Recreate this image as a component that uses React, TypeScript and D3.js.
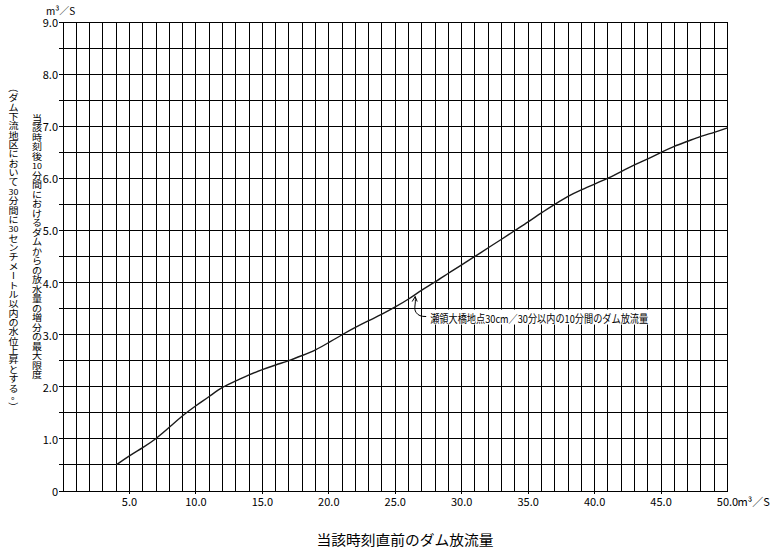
import React from 'react';
import * as d3 from 'd3';

// ダム放流量 (m3/s) readings
const flowX = [4, 5, 6, 7, 8, 9, 10, 11, 12, 13, 14, 15, 16, 17, 18, 19, 20, 21, 22, 23, 24, 25, 26, 27,
  28, 29, 30, 31, 32, 33, 34, 35, 36, 37, 38, 39, 40, 41, 42, 43, 44, 45, 46, 47, 48, 49, 50];
const flowY = [0.5, 0.68, 0.83, 1.0, 1.22, 1.45, 1.64, 1.81, 2.0, 2.11, 2.23, 2.33, 2.42, 2.5, 2.6, 2.7,
  2.85, 3.0, 3.14, 3.27, 3.39, 3.53, 3.68, 3.86, 4.01, 4.18, 4.34, 4.5, 4.67, 4.83, 5.0, 5.16, 5.34,
  5.5, 5.66, 5.78, 5.89, 6.0, 6.13, 6.26, 6.37, 6.5, 6.62, 6.71, 6.81, 6.88, 6.97];

const yTicks = [0, 1, 2, 3, 4, 5, 6, 7, 8, 9];
const yTickLabels = ['0', '1.0', '2.0', '3.0', '4.0', '5.0', '6.0', '7.0', '8.0', '9.0'];
const xTicks = [5, 10, 15, 20, 25, 30, 35, 40, 45, 50];
const xTickLabels = ['5.0', '10.0', '15.0', '20.0', '25.0', '30.0', '35.0', '40.0', '45.0', '50.0'];

const unitText = 'm³／S';
const xTitle = '当該時刻直前のダム放流量';
const yTitleInner = '当該時刻後10分間におけるダムからの放水量の増分の最大限度';
const yTitleOuter = '（ダム下流地区において30分間に30センチメートル以内の水位上昇とする。）';
const noteText = '瀬領大橋地点30cm／30分以内の10分間のダム放流量';
const noteAt = 26.5;

const FONT = '"Noto Sans CJK JP", "Noto Sans", sans-serif';

// tategaki: one glyph (or digit group) per cell
function VerticalText({text, cx, y0, pitch}: {text: string, cx: number, y0: number, pitch: number}) {
  const toks = text.match(/[0-9]+|./gu) || [];
  return (
    <g fontFamily={FONT} fill="#000">
      {toks.map((t, i) => {
        const y = y0 + i * pitch;
        const rot = t === '（' || t === '）' || t === 'ー';
        const digits = /^[0-9]+$/.test(t);
        if (t === '。') {
          return <text key={i} x={cx + 2} y={y - 2} textAnchor="middle" dominantBaseline="central" fontSize={9}>{t}</text>;
        }
        return (
          <text key={i} textAnchor="middle" dominantBaseline="central"
                fontSize={digits ? 8 : 9}
                transform={`translate(${cx} ${y}) scale(1.12 1)${rot ? ' rotate(90)' : ''}`}>{t}</text>
        );
      })}
    </g>
  );
}

export default function App() {
  const width = 776;
  const height = 553;

  const x = d3.scaleLinear().domain([0, 50]).range([63, 727.5]);
  const y = d3.scaleLinear().domain([0, 9]).range([491, 22]);

  const vLines = d3.range(0, 51, 1);
  const hLines = d3.range(0, 9.01, 0.5);

  const pts: [number, number][] = flowX.map((d, i) => [d, flowY[i]]);
  const line = d3.line<[number, number]>()
    .x(d => x(d[0]))
    .y(d => y(d[1]))
    .curve(d3.curveBasis);

  const interp = d3.scaleLinear().domain(flowX).range(flowY);
  const ax = x(noteAt);
  const ay = y(interp(noteAt)) + 2;

  return (
    <svg width={width} height={height} viewBox={`0 0 ${width} ${height}`}
         style={{position: 'absolute', left: 0, top: 0, background: '#fff'}}>
      <rect width={width} height={height} fill="#fff"/>
      <g stroke="#000" strokeWidth={1} shapeRendering="crispEdges">
        {vLines.map(v => (
          <line key={'v' + v} x1={x(v)} x2={x(v)} y1={y(9)} y2={y(0)}/>
        ))}
        {hLines.map(v => (
          <line key={'h' + v} x1={x(0) - 4} x2={x(50)} y1={y(v)} y2={y(v)}/>
        ))}
        {xTicks.slice(0, -1).map(v => (
          <line key={'t' + v} x1={x(v)} x2={x(v)} y1={y(0)} y2={y(0) + 3}/>
        ))}
      </g>

      <path d={line(pts) || ''} fill="none" stroke="#1a1a1a" strokeWidth={1.4}/>

      <g fontFamily={FONT} fontSize={11} fill="#000">
        {yTicks.map((v, i) => (
          <text key={'yl' + v} x={58} y={y(v)} textAnchor="end" dominantBaseline="central">{yTickLabels[i]}</text>
        ))}
        {xTicks.map((v, i) => (
          <text key={'xl' + v} x={x(v)} y={501} textAnchor="middle" dominantBaseline="central">{xTickLabels[i]}</text>
        ))}
        <text x={x(50) + 10} y={501} dominantBaseline="central">{unitText}</text>
        <text x={46} y={10} fontSize={10} dominantBaseline="central">{unitText}</text>
      </g>

      {/* annotation */}
      <g fill="none" stroke="#000" strokeWidth={1}>
        <path d={`M${ax - 3},${ay + 5} L${ax},${ay} L${ax + 2},${ay + 5}`}/>
        <path d={`M${ax},${ay} C${ax + 1},${ay + 8} ${ax - 2},${ay + 12} ${ax + 1},${ay + 16} C${ax + 3},${ay + 19} ${ax + 6},${ay + 20} ${ax + 11},${ay + 20}`}/>
      </g>
      <rect x={ax + 13} y={ay + 13} width={223} height={15} fill="#fff"/>
      <text x={ax + 15} y={ay + 21} fontFamily={FONT} fontSize={11} dominantBaseline="central"
            textLength={218} lengthAdjust="spacingAndGlyphs">{noteText}</text>

      <text x={405} y={539} fontFamily={FONT} fontSize={14} textAnchor="middle" dominantBaseline="central"
            textLength={177} lengthAdjust="spacingAndGlyphs">{xTitle}</text>

      <VerticalText text={yTitleInner} cx={37} y0={118} pitch={9.5}/>
      <VerticalText text={yTitleOuter} cx={13.5} y0={88} pitch={9.37}/>
    </svg>
  );
}
